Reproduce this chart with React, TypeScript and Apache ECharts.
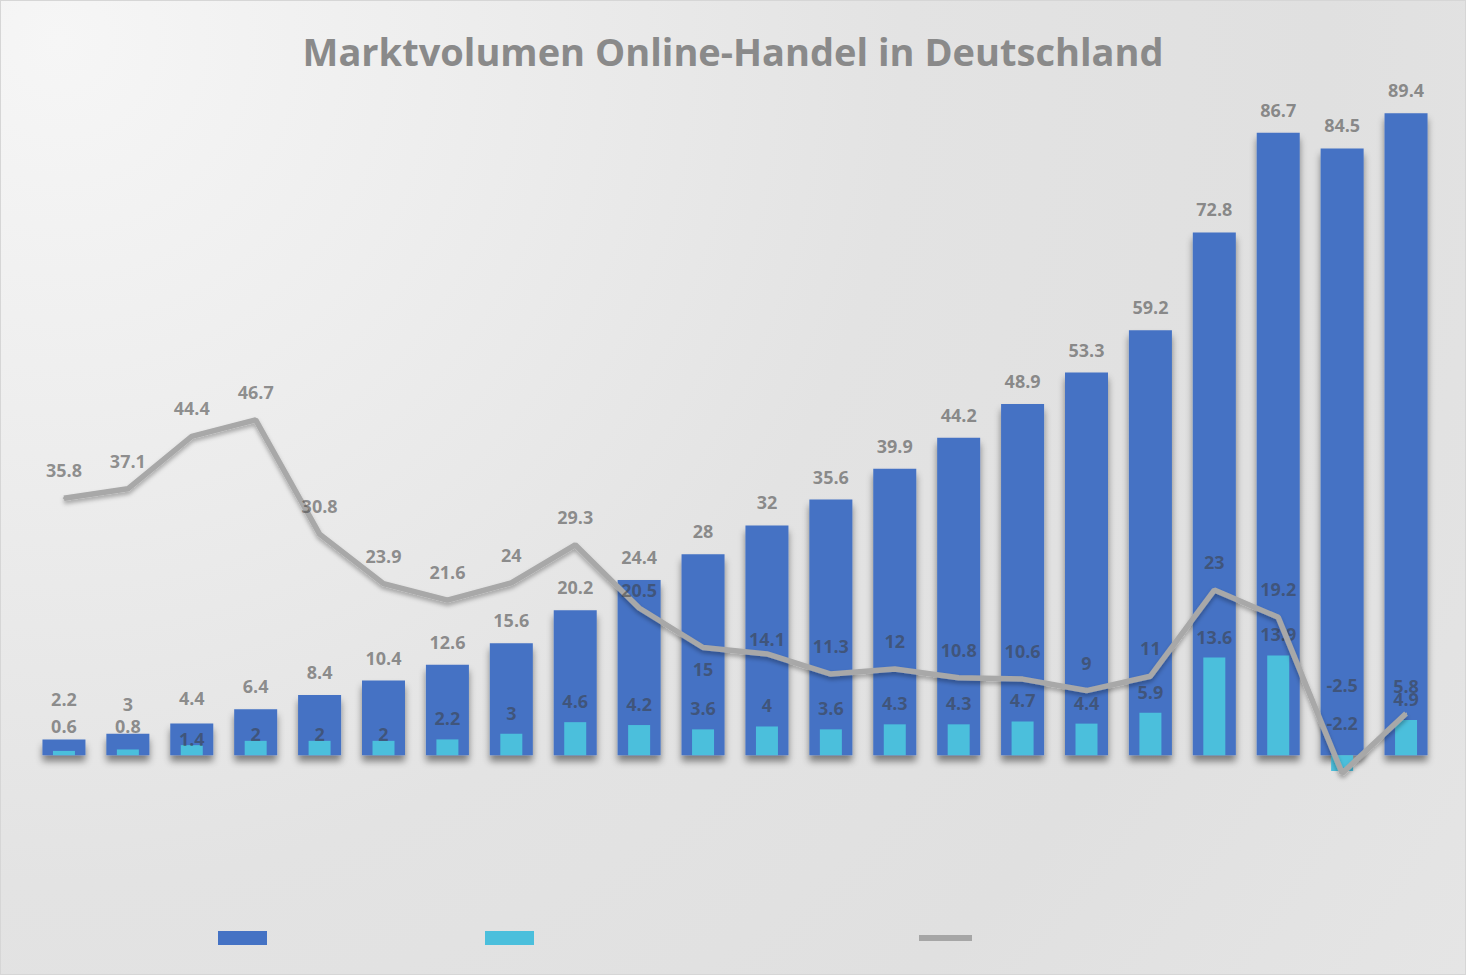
import React, { useEffect, useRef } from "react";
import * as echarts from "echarts";

const TITLE = "Marktvolumen Online-Handel in Deutschland";
const YEARS = ["1999","2000","2001","2002","2003","2004","2005","2006","2007","2008","2009","2010","2011","2012","2013","2014","2015","2016","2017","2018","2019","2020"];
const UMSATZ = [2.2, 3, 4.4, 6.4, 8.4, 10.4, 12.6, 15.6, 20.2, 24.4, 28, 32, 35.6, 39.9, 44.2, 48.9, 53.3, 59.2, 72.8, 86.7, 84.5, 89.4];
const WACHSTUM_ABS = [0.6, 0.8, 1.4, 2, 2, 2, 2.2, 3, 4.6, 4.2, 3.6, 4, 3.6, 4.3, 4.3, 4.7, 4.4, 5.9, 13.6, 13.9, -2.2, 4.9];
const WACHSTUM_PCT = [35.8, 37.1, 44.4, 46.7, 30.8, 23.9, 21.6, 24, 29.3, 20.5, 15, 14.1, 11.3, 12, 10.8, 10.6, 9, 11, 23, 19.2, -2.5, 5.8];

const NAME_A = "Umsatz in Mrd. Euro";
const NAME_B = "Wachstum in Mrd. Euro";
const NAME_C = "Wachstum in %";

// label nudges (layout only)
const DARK_SHIFT: Record<number, number> = { 0: -17, 1: -7, 2: -3 };
const LIGHT_SHIFT: Record<number, number> = { 0: -4, 1: -2, 2: 15, 3: 14, 4: 14, 5: 14, 20: -11 };
const LINE_SHIFT: Record<number, number> = { 9: 10, 10: 49, 11: 13, 20: -60 };

const LABEL_COLOR = "rgba(60,60,60,0.55)";
const FONT = "Open Sans";

function withShift(values: number[], shift: Record<number, number>) {
  return values.map((v, i) =>
    shift[i] !== undefined ? { value: v, label: { offset: [0, shift[i]] } } : v
  );
}

export default function App() {
  const ref = useRef<HTMLDivElement>(null);
  useEffect(() => {
    document.body.style.margin = "0";
    const chart = echarts.init(ref.current!, undefined, { renderer: "svg" });
    const labelBase = {
      show: true,
      color: LABEL_COLOR,
      fontFamily: FONT,
      fontWeight: "bold" as const,
      fontSize: 18,
    };
    chart.setOption({
      animation: false,
      title: {
        text: TITLE,
        left: "center",
        top: 26,
        textStyle: { fontFamily: FONT, fontWeight: "bold", fontSize: 38, color: "#8a8a8a" },
      },
      legend: [
        { data: [NAME_A], left: 217, top: 930, itemWidth: 49, itemHeight: 14, icon: "rect", formatter: () => "", selectedMode: false, padding: 0 },
        { data: [NAME_B], left: 484, top: 930, itemWidth: 49, itemHeight: 14, icon: "rect", formatter: () => "", selectedMode: false, padding: 0 },
        { data: [NAME_C], left: 918, top: 934, itemWidth: 53, itemHeight: 6, icon: "rect", formatter: () => "", selectedMode: false, padding: 0, itemStyle: { color: "#a6a6a6", opacity: 1 } },
      ],
      grid: { left: 31, right: 27, top: 108, bottom: 147 },
      xAxis: [
        { type: "category", data: YEARS, show: false },
        { type: "category", data: YEARS, show: false },
      ],
      yAxis: { type: "value", min: -10, max: 90, show: false, splitLine: { show: false } },
      series: [
        {
          name: NAME_A,
          type: "bar",
          xAxisIndex: 0,
          barWidth: 43,
          data: withShift(UMSATZ, DARK_SHIFT),
          itemStyle: {
            color: "#4472c4",
            shadowColor: "rgba(0,0,0,0.45)",
            shadowBlur: 7,
            shadowOffsetY: 6,
          },
          label: { ...labelBase, position: "top", distance: 14 },
          z: 1,
        },
        {
          name: NAME_B,
          type: "bar",
          xAxisIndex: 1,
          barWidth: 22,
          data: withShift(WACHSTUM_ABS, LIGHT_SHIFT),
          itemStyle: { color: "#4bbfdc" },
          label: { ...labelBase, position: "top", distance: 12 },
          z: 2,
        },
        {
          name: NAME_C,
          type: "line",
          xAxisIndex: 0,
          data: withShift(WACHSTUM_PCT, LINE_SHIFT),
          showSymbol: true,
          symbol: "circle",
          symbolSize: 2,
          lineStyle: {
            color: "#a8a8a8",
            width: 5.5,
            shadowColor: "rgba(0,0,0,0.3)",
            shadowBlur: 4,
            shadowOffsetY: 3,
          },
          itemStyle: { color: "#a8a8a8" },
          label: { ...labelBase, position: "top", distance: 18 },
          z: 3,
        },
      ],
    });
    return () => chart.dispose();
  }, []);
  return (
    <div
      ref={ref}
      style={{
        width: 1466,
        height: 975,
        boxSizing: "border-box",
        border: "1px solid #d6d6d6",
        background:
          "radial-gradient(circle at 4% 4%, #f6f6f6 0%, #eeeeee 22%, #e3e3e3 50%, #e0e0e0 75%, #e5e5e5 100%)",
      }}
    />
  );
}
